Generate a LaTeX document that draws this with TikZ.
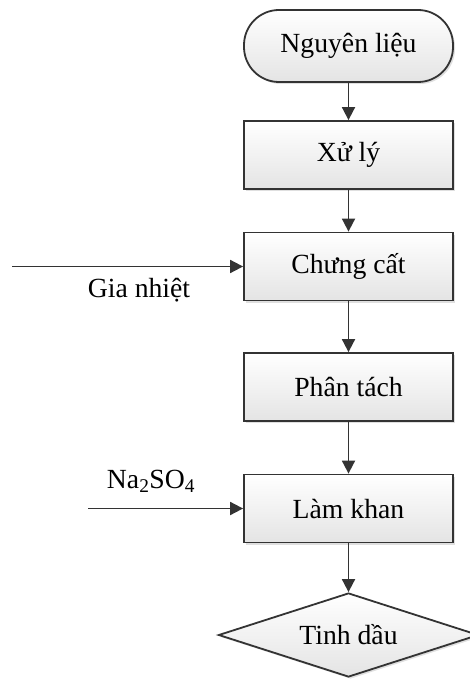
\documentclass[tikz,border=0pt]{standalone}
\usepackage{fontspec}
\setmainfont{Liberation Serif}
\usetikzlibrary{arrows.meta,shapes.geometric,shadows}

\definecolor{edgecol}{HTML}{333333}
\definecolor{fillbot}{HTML}{E4E4E4}

\tikzset{
  labelfont/.style={font=\fontsize{27.7}{32}\selectfont},
  blockfill/.style={top color=white, bottom color=fillbot, draw=edgecol, line width=1.8pt,
    drop shadow={shadow xshift=2pt, shadow yshift=-2pt, opacity=0.25, fill=gray}},
  stepbox/.style={blockfill, rectangle, minimum width=209pt, minimum height=68pt,
    inner sep=0pt, labelfont},
  terminal/.style={blockfill, rectangle, rounded corners=35pt, minimum width=209pt,
    minimum height=72pt, inner sep=0pt, labelfont},
  outcome/.style={blockfill, diamond, aspect=3.1, minimum width=260pt, minimum height=84pt,
    inner sep=0pt, labelfont},
  flow/.style={draw=edgecol, line width=1.8pt,
    -{Triangle[length=13pt,width=13pt]}},
  sidelabel/.style={inner sep=0pt, labelfont},
}

\begin{document}
\begin{tikzpicture}[x=1pt, y=-1pt]
  \useasboundingbox (0,0) rectangle (470,679);

  \node[terminal] (src) at (348.5,46) {Nguyên liệu};
  \node[stepbox] (prep) at (348.5,155) {Xử lý};
  \node[stepbox] (dist) at (348.5,266.5) {Chưng cất};
  \node[stepbox] (sep)  at (348.5,387) {Phân tách};
  \node[stepbox] (dry)  at (348.5,508.5) {Làm khan};
  \node[outcome] (oil)  at (348.5,635) {Tinh dầu};

  \draw[flow] (src) -- (prep);
  \draw[flow] (prep) -- (dist);
  \draw[flow] (dist) -- (sep);
  \draw[flow] (sep) -- (dry);
  \draw[flow] (dry) -- (oil.north);

  \coordinate (heatin) at (12,266.5);
  \draw[flow] (heatin) -- (dist.west);
  \node[sidelabel] (heat) at (139,290) {Gia nhiệt};

  \coordinate (saltin) at (88,508.5);
  \draw[flow] (saltin) -- (dry.west);
  \node[sidelabel] (salt) at (151,481) {Na\textsubscript{2}SO\textsubscript{4}};
\end{tikzpicture}
\end{document}
